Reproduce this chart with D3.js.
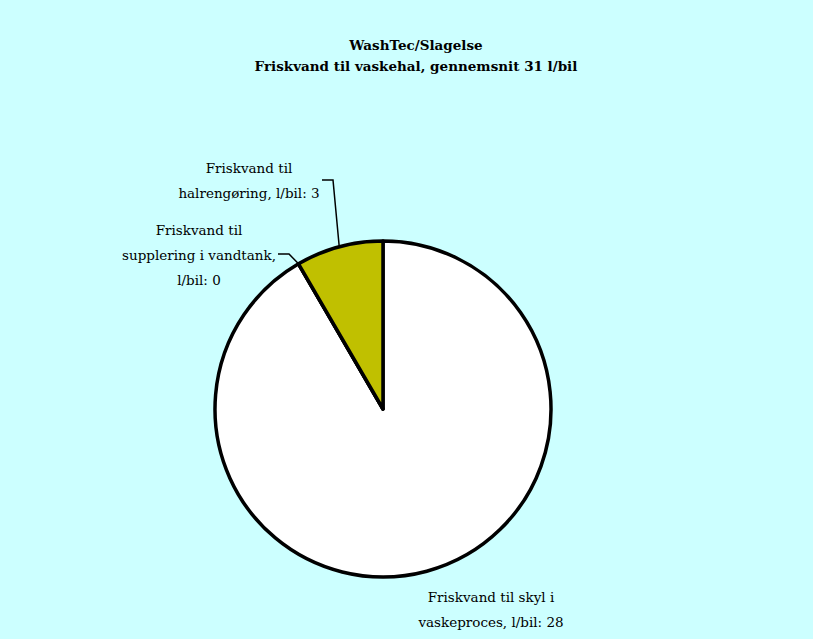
<!DOCTYPE html>
<html>
<head>
    <meta charset="utf-8">
    <title></title>
    <style>
        body { margin: 0; background: #CCFFFF; }
        svg text { font-family: "DejaVu Serif", serif; fill: #000; }
    </style>
</head>
<body>
    <svg class="chart" width="813" height="639"></svg>
    <script src="https://cdn.jsdelivr.net/npm/d3@7"></script>
    <script>
        var titleLines = ["WashTec/Slagelse", "Friskvand til vaskehal, gennemsnit 31 l/bil"];
        var categories = ["Friskvand til skyl i vaskeproces", "Friskvand til supplering i vandtank", "Friskvand til halrengøring"];
        var values = [28.4, 0.0, 2.6];
        var valueLabels = ["28", "0", "3"];
        var colors = ["#FFFFFF", "#FFFFFF", "#C0C000"];

        var svg = d3.select(".chart");
        var cx = 383, cy = 409, r = 168;

        svg.append("rect").attr("width", 813).attr("height", 639).attr("fill", "#CCFFFF");

        // title
        svg.selectAll("text.title").data(titleLines).enter().append("text")
            .attr("class", "title")
            .attr("x", 416)
            .attr("y", function (d, i) { return 50 + i * 21; })
            .attr("text-anchor", "middle")
            .style("font-weight", "bold")
            .style("font-size", "13.5px")
            .text(function (d) { return d; });

        var pie = d3.pie().sort(null).value(function (d) { return d; });
        var arcs = pie(values);
        var arc = d3.arc().innerRadius(0).outerRadius(r);
        var edge = d3.arc().innerRadius(r).outerRadius(r);

        var g = svg.append("g").attr("transform", "translate(" + cx + "," + cy + ")");
        g.selectAll("path").data(arcs).enter().append("path")
            .attr("d", arc)
            .attr("fill", function (d, i) { return colors[i]; })
            .attr("stroke", "#000")
            .attr("stroke-width", 3.5)
            .attr("stroke-linejoin", "round");

        // labels: line texts + center + leader elbow
        var labels = [
            { lines: ["Friskvand til skyl i", "vaskeproces, l/bil: " + valueLabels[0]], x: 491, y: 597, leader: null },
            { lines: ["Friskvand til", "supplering i vandtank,", "l/bil: " + valueLabels[1]], x: 199, y: 230, leader: [[278, 254], [289, 254]] },
            { lines: ["Friskvand til", "halrengøring, l/bil: " + valueLabels[2]], x: 249, y: 168, leader: [[322, 180], [333, 180]] }
        ];

        labels.forEach(function (lb, i) {
            var t = svg.append("text")
                .attr("text-anchor", "middle")
                .style("font-size", "13.5px");
            lb.lines.forEach(function (ln, j) {
                t.append("tspan").attr("x", lb.x).attr("y", lb.y + j * 25).attr("dy", "0.35em").text(ln);
            });
            if (lb.leader) {
                var c = edge.centroid(arcs[i]);
                var pts = lb.leader.concat([[cx + c[0], cy + c[1]]]);
                svg.append("path")
                    .attr("d", d3.line()(pts))
                    .attr("fill", "none")
                    .attr("stroke", "#000")
                    .attr("stroke-width", 1.5);
            }
        });
    </script>
</body>
</html>
